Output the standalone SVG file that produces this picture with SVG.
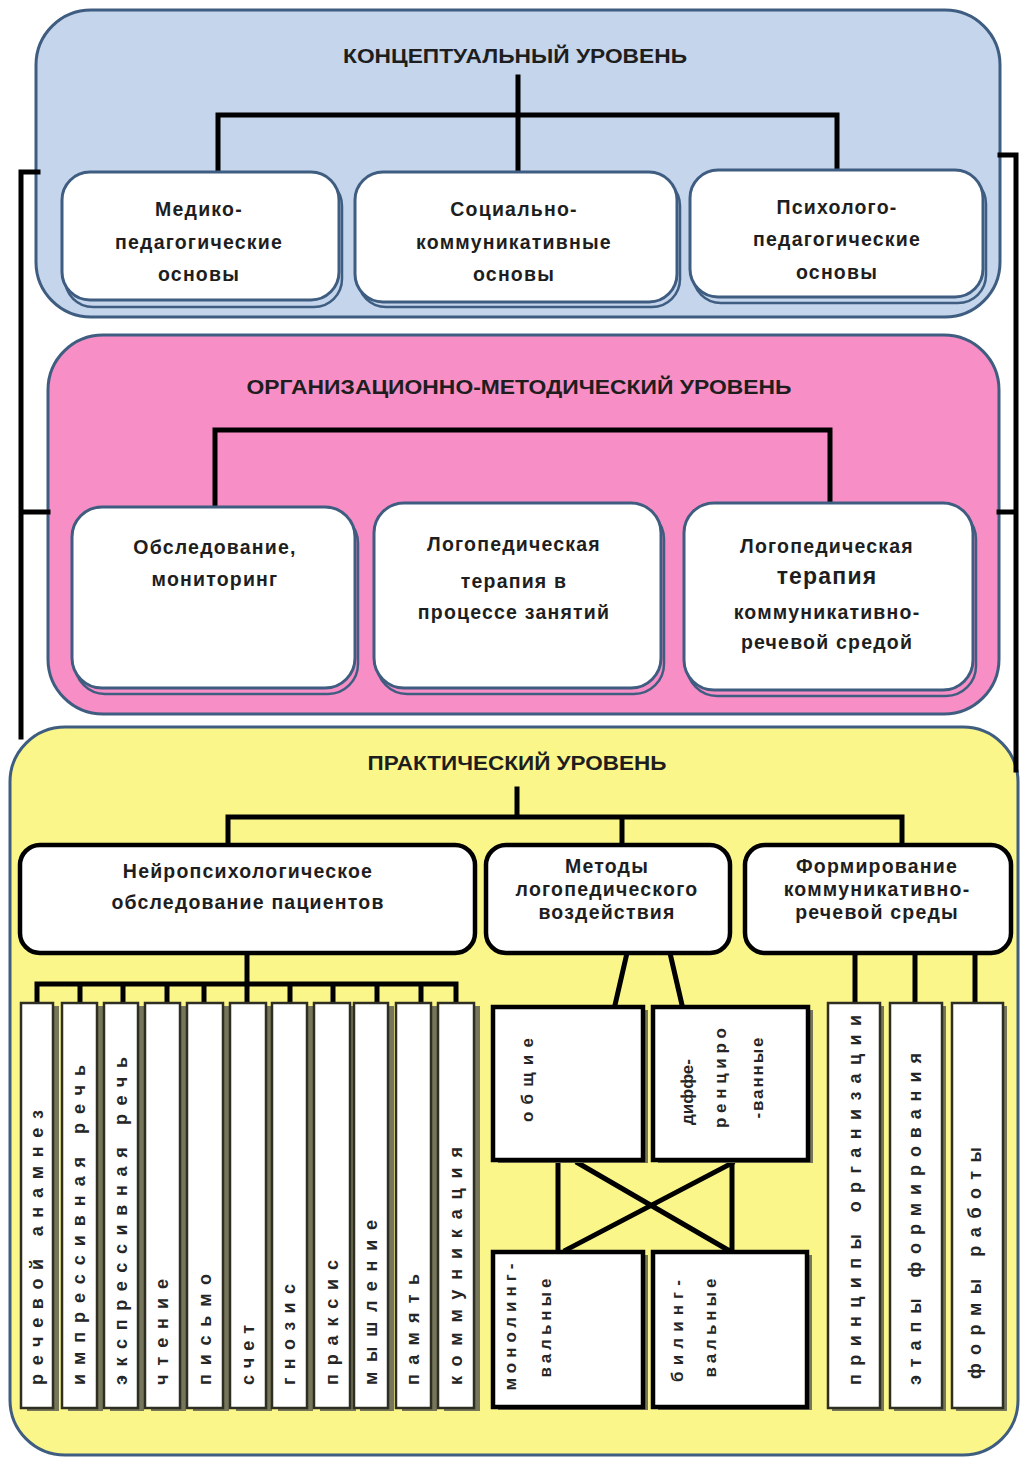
<svg xmlns="http://www.w3.org/2000/svg" width="1021" height="1460" viewBox="0 0 1021 1460">
<style>
.panel{stroke:#3e5d80;stroke-width:3}
.ibox{fill:#fff;stroke:#3e5d80;stroke-width:3}
.ish{fill:none;stroke:#3e5d80;stroke-width:2.5}
.ybox{fill:#fff;stroke:#000;stroke-width:4.5}
.nbox{fill:#fff;stroke:#2e2e22;stroke-width:2.5}
.nsh{fill:#76765a}
.con{stroke:#000;stroke-width:5;fill:none;stroke-linecap:square}
.t{font-family:"Liberation Sans",Arial,sans-serif;font-weight:bold;font-size:19.5px;fill:#1e1e1e;text-anchor:middle;letter-spacing:1.2px}
.big{font-size:23px}
.ttl{font-family:"Liberation Sans",Arial,sans-serif;font-weight:bold;font-size:21px;fill:#1e1e1e;text-anchor:middle}
.v{font-family:"Liberation Sans",Arial,sans-serif;font-weight:bold;font-size:18px;fill:#262626}
.vm{font-family:"Liberation Sans",Arial,sans-serif;font-weight:bold;font-size:17px;fill:#262626;text-anchor:middle}
</style>
<rect width="1021" height="1460" fill="#fff"/>

<!-- panels -->
<g id="panel-conceptual">
<rect class="panel" x="36" y="10" width="964" height="307" rx="55" fill="#c4d5ec"/>
<text class="ttl" x="515" y="63" textLength="344" lengthAdjust="spacingAndGlyphs">КОНЦЕПТУАЛЬНЫЙ УРОВЕНЬ</text>
</g>
<g id="panel-org">
<rect class="panel" x="48" y="335" width="951" height="379" rx="55" fill="#f78fc6"/>
<text class="ttl" x="519" y="394" textLength="545" lengthAdjust="spacingAndGlyphs">ОРГАНИЗАЦИОННО-МЕТОДИЧЕСКИЙ УРОВЕНЬ</text>
</g>
<g id="panel-practical">
<rect class="panel" x="10" y="727" width="1008" height="728" rx="55" fill="#fbf68a"/>
<text class="ttl" x="517" y="770" textLength="299" lengthAdjust="spacingAndGlyphs">ПРАКТИЧЕСКИЙ УРОВЕНЬ</text>
</g>

<!-- connectors -->
<g id="connectors">
<path class="con" d="M21 172 L38 172 M21 172 L21 737 M21 512 L48 512"/>
<path class="con" d="M1000 155 L1016 155 L1016 770 M999 512 L1016 512"/>
<path class="con" d="M518 77 L518 172 M218 115 L837 115 M218 115 L218 172 M837 115 L837 170"/>
<path class="con" d="M215 430 L830 430 M215 430 L215 507 M830 430 L830 503"/>
<path class="con" d="M517 789 L517 817 M228 817 L902 817 M228 817 L228 845 M622 817 L622 845 M902 817 L902 845"/>
<path class="con" d="M247 953 L247 984 M37 984 L456 984 M37 984 L37 1003 M80 984 L80 1003 M123 984 L123 1003 M167 984 L167 1003 M204 984 L204 1003 M247 984 L247 1003 M290 984 L290 1003 M333 984 L333 1003 M377 984 L377 1003 M421 984 L421 1003 M456 984 L456 1003"/>
<path class="con" d="M627 953 L615 1005 M670 953 L682 1005" stroke-linecap="butt"/>
<path class="con" d="M558 1160 L558 1252 M732 1160 L732 1252 M578 1163 L728 1250 M732 1163 L566 1250" stroke-linecap="butt"/>
<path class="con" d="M855 953 L855 1003 M915 953 L915 1003 M975 953 L975 1003" stroke-linecap="butt"/>
</g>

<!-- conceptual boxes -->
<g id="box-med">
<rect class="ish" x="65" y="178" width="277" height="129" rx="28"/>
<rect class="ibox" x="62" y="172" width="277" height="128" rx="28"/>
<text class="t" x="199" y="216">Медико-</text>
<text class="t" x="199" y="249">педагогические</text>
<text class="t" x="199" y="281">основы</text>
</g>
<g id="box-soc">
<rect class="ish" x="358" y="178" width="322" height="129" rx="28"/>
<rect class="ibox" x="355" y="172" width="322" height="130" rx="28"/>
<text class="t" x="514" y="216">Социально-</text>
<text class="t" x="514" y="249">коммуникативные</text>
<text class="t" x="514" y="281">основы</text>
</g>
<g id="box-psy">
<rect class="ish" x="693" y="176" width="293" height="127" rx="28"/>
<rect class="ibox" x="690" y="170" width="293" height="127" rx="28"/>
<text class="t" x="837" y="214">Психолого-</text>
<text class="t" x="837" y="246">педагогические</text>
<text class="t" x="837" y="279">основы</text>
</g>

<!-- org boxes -->
<g id="box-exam">
<rect class="ish" x="75" y="513" width="283" height="181" rx="30"/>
<rect class="ibox" x="72" y="507" width="283" height="181" rx="30"/>
<text class="t" x="215" y="554">Обследование,</text>
<text class="t" x="215" y="586">мониторинг</text>
</g>
<g id="box-therapy-lessons">
<rect class="ish" x="377" y="509" width="287" height="185" rx="30"/>
<rect class="ibox" x="374" y="503" width="287" height="185" rx="30"/>
<text class="t" x="514" y="551">Логопедическая</text>
<text class="t" x="514" y="588">терапия в</text>
<text class="t" x="514" y="619">процессе занятий</text>
</g>
<g id="box-therapy-env">
<rect class="ish" x="687" y="509" width="289" height="187" rx="30"/>
<rect class="ibox" x="684" y="503" width="289" height="187" rx="30"/>
<text class="t" x="827" y="553">Логопедическая</text>
<text class="t big" x="827" y="584">терапия</text>
<text class="t" x="827" y="619">коммуникативно-</text>
<text class="t" x="827" y="649">речевой средой</text>
</g>

<!-- practical boxes -->
<g id="box-neuro">
<rect class="ybox" x="20" y="845" width="455" height="108" rx="20"/>
<text class="t" x="248" y="878">Нейропсихологическое</text>
<text class="t" x="248" y="909">обследование пациентов</text>
</g>
<g id="box-methods">
<rect class="ybox" x="486" y="845" width="244" height="108" rx="20"/>
<text class="t" x="607" y="873">Методы</text>
<text class="t" x="607" y="896">логопедического</text>
<text class="t" x="607" y="919">воздействия</text>
</g>
<g id="box-forming">
<rect class="ybox" x="745" y="845" width="266" height="108" rx="20"/>
<text class="t" x="877" y="873">Формирование</text>
<text class="t" x="877" y="896">коммуникативно-</text>
<text class="t" x="877" y="919">речевой среды</text>
</g>

<!-- neuro items -->
<g id="n1"><rect class="nsh" x="27" y="1006" width="32" height="405"/><rect class="nbox" x="21" y="1003" width="32" height="405"/><text class="v" transform="translate(43,1385) rotate(-90)" textLength="275">речевой анамнез</text></g>
<g id="n2"><rect class="nsh" x="68" y="1006" width="35" height="405"/><rect class="nbox" x="62" y="1003" width="35" height="405"/><text class="v" transform="translate(85,1385) rotate(-90)" textLength="320">импрессивная речь</text></g>
<g id="n3"><rect class="nsh" x="110" y="1006" width="34" height="405"/><rect class="nbox" x="104" y="1003" width="34" height="405"/><text class="v" transform="translate(127,1385) rotate(-90)" textLength="328">экспрессивная речь</text></g>
<g id="n4"><rect class="nsh" x="151" y="1006" width="35" height="405"/><rect class="nbox" x="145" y="1003" width="35" height="405"/><text class="v" transform="translate(168,1385) rotate(-90)" textLength="106">чтение</text></g>
<g id="n5"><rect class="nsh" x="193" y="1006" width="36" height="405"/><rect class="nbox" x="187" y="1003" width="36" height="405"/><text class="v" transform="translate(211,1385) rotate(-90)" textLength="111">письмо</text></g>
<g id="n6"><rect class="nsh" x="236" y="1006" width="36" height="405"/><rect class="nbox" x="230" y="1003" width="36" height="405"/><text class="v" transform="translate(254,1385) rotate(-90)" textLength="60">счет</text></g>
<g id="n7"><rect class="nsh" x="278" y="1006" width="35" height="405"/><rect class="nbox" x="272" y="1003" width="35" height="405"/><text class="v" transform="translate(295,1385) rotate(-90)" textLength="101">гнозис</text></g>
<g id="n8"><rect class="nsh" x="320" y="1006" width="36" height="405"/><rect class="nbox" x="314" y="1003" width="36" height="405"/><text class="v" transform="translate(338,1385) rotate(-90)" textLength="125">праксис</text></g>
<g id="n9"><rect class="nsh" x="360" y="1006" width="34" height="405"/><rect class="nbox" x="354" y="1003" width="34" height="405"/><text class="v" transform="translate(377,1385) rotate(-90)" textLength="165">мышление</text></g>
<g id="n10"><rect class="nsh" x="402" y="1006" width="35" height="405"/><rect class="nbox" x="396" y="1003" width="35" height="405"/><text class="v" transform="translate(419,1385) rotate(-90)" textLength="111">память</text></g>
<g id="n11"><rect class="nsh" x="444" y="1006" width="36" height="405"/><rect class="nbox" x="438" y="1003" width="36" height="405"/><text class="v" transform="translate(462,1385) rotate(-90)" textLength="238">коммуникация</text></g>

<!-- method items -->
<g id="m-general"><rect class="nsh" x="498" y="1010" width="150" height="153"/><rect class="ybox" x="493" y="1007" width="150" height="153"/><text class="vm" transform="translate(533,1080) rotate(-90)" textLength="84">общие</text></g>
<g id="m-diff"><rect class="nsh" x="658" y="1010" width="155" height="153"/><rect class="ybox" x="653" y="1007" width="155" height="153"/><text class="vm" transform="translate(693,1092) rotate(-90)">диффе-</text><text class="vm" transform="translate(726,1078) rotate(-90)" textLength="100">ренциро</text><text class="vm" transform="translate(763,1078) rotate(-90)" textLength="81">-ванные</text></g>
<g id="m-mono"><rect class="nsh" x="498" y="1255" width="150" height="155"/><rect class="ybox" x="493" y="1252" width="150" height="155"/><text class="vm" transform="translate(516,1327) rotate(-90)" textLength="127">монолинг-</text><text class="vm" transform="translate(551,1328) rotate(-90)" textLength="99">вальные</text></g>
<g id="m-bi"><rect class="nsh" x="658" y="1255" width="154" height="155"/><rect class="ybox" x="653" y="1252" width="154" height="155"/><text class="vm" transform="translate(683,1331) rotate(-90)" textLength="102">билинг-</text><text class="vm" transform="translate(716,1328) rotate(-90)" textLength="99">вальные</text></g>

<!-- forming items -->
<g id="f1"><rect class="nsh" x="832" y="1006" width="52" height="405"/><rect class="nbox" x="828" y="1003" width="52" height="405"/><text class="v" transform="translate(861,1385) rotate(-90)" textLength="370">принципы организации</text></g>
<g id="f2"><rect class="nsh" x="894" y="1006" width="52" height="405"/><rect class="nbox" x="890" y="1003" width="52" height="405"/><text class="v" transform="translate(921,1385) rotate(-90)" textLength="332">этапы формирования</text></g>
<g id="f3"><rect class="nsh" x="956" y="1006" width="51" height="405"/><rect class="nbox" x="952" y="1003" width="51" height="405"/><text class="v" transform="translate(981,1379) rotate(-90)" textLength="232">формы работы</text></g>
</svg>
